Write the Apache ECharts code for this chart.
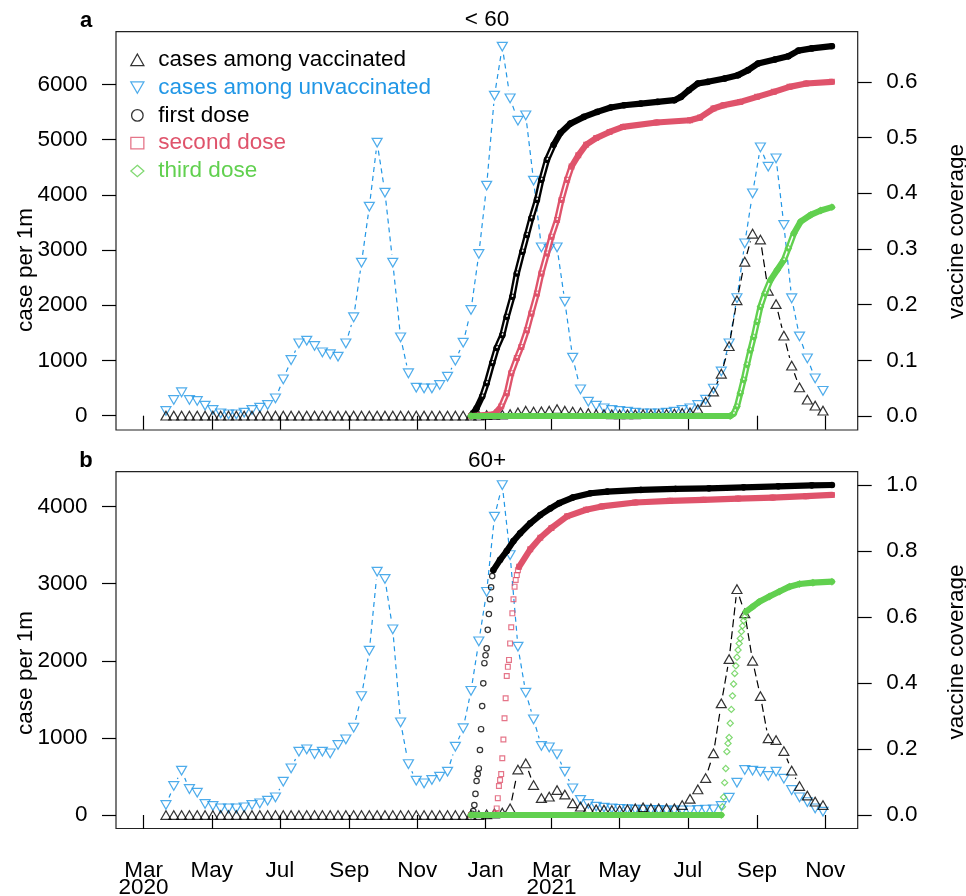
<!DOCTYPE html>
<html>
<head>
<meta charset="utf-8">
<script src="https://cdn.jsdelivr.net/npm/echarts@6/dist/echarts.min.js"></script>
<style>
  html, body { margin: 0; padding: 0; background: #fff; }
  #chart { width: 966px; height: 896px; }
</style>
</head>
<body>
<div id="chart"></div>
<script>
// ---------- weekly case rates (per 1m), one value per week starting 2020-03-21 ----------
const firstWeek = '2020-03-21';

const unvaccinatedA = [
  85, 284, 424, 284, 266, 181, 103, 43, 25, 25,
  54, 103, 145, 194, 315, 659, 1008, 1311, 1358, 1262,
  1148, 1112, 1068, 1311, 1782, 2770, 3784, 4943, 4038, 2770,
  1419, 768, 507, 496, 496, 556, 706, 996, 1322, 1914,
  2928, 4165, 5794, 6681, 5747, 5341, 5439, 4255, 3049, 3020,
  3049, 2064, 1050, 478, 253, 180, 134, 103, 85, 72,
  54, 43, 43, 43, 54, 72, 103, 134, 194, 290,
  490, 800, 1311, 2130, 3121, 4027, 4860, 4508, 4660, 3453,
  2126, 1435, 1039, 677, 450
];
const vaccinatedA = [
  0, 0, 0, 0, 0, 0, 0, 0, 0, 0,
  0, 0, 0, 0, 0, 0, 0, 0, 0, 0,
  0, 0, 0, 0, 0, 0, 0, 0, 0, 0,
  0, 0, 0, 0, 0, 0, 0, 0, 0, 0,
  0, 10, 15, 20, 30, 60, 90, 72, 78, 90,
  120, 90, 72, 60, 48, 30, 30, 25, 25, 25,
  25, 30, 30, 30, 35, 40, 50, 60, 120, 250,
  437, 760, 1260, 2090, 2788, 3295, 3190, 2263, 2021, 1449,
  905, 512, 290, 181, 91
];
const unvaccinatedB = [
  130, 376, 575, 337, 289, 143, 117, 87, 87, 87,
  100, 130, 152, 186, 229, 432, 605, 821, 852, 791,
  821, 800, 908, 982, 1133, 1543, 2131, 3156, 3061, 2408,
  1202, 661, 445, 411, 454, 497, 562, 886, 1125, 1610,
  2252, 2894, 3869, 4280, 3372, 2183, 1586, 1241, 895, 878,
  787, 562, 346, 195, 143, 108, 95, 85, 80, 75,
  70, 70, 65, 65, 60, 60, 60, 60, 65, 70,
  74, 117, 224, 419, 584, 575, 562, 506, 562, 470,
  324, 229, 167, 87, 43
];
const vaccinatedB = [
  0, 0, 0, 0, 0, 0, 0, 0, 0, 0,
  0, 0, 0, 0, 0, 0, 0, 0, 0, 0,
  0, 0, 0, 0, 0, 0, 0, 0, 0, 0,
  0, 0, 0, 0, 0, 0, 0, 0, 0, 0,
  0, 10, 20, 30, 87, 590, 670, 389, 220, 238,
  324, 265, 152, 108, 87, 74, 70, 65, 65, 74,
  87, 100, 87, 87, 87, 87, 130, 210, 333, 480,
  800, 1449, 2023, 2929, 2616, 2001, 1543, 995, 973, 830,
  575, 376, 252, 173, 130
];

// ---------- vaccine coverage readings [date, share] ----------
const firstDoseA = [
  ['2020-12-19', 0], ['2020-12-24', 0.014], ['2020-12-29', 0.035], ['2021-01-02', 0.059],
  ['2021-01-07', 0.095], ['2021-01-11', 0.122], ['2021-01-16', 0.145], ['2021-01-20', 0.178],
  ['2021-01-25', 0.214], ['2021-01-29', 0.256], ['2021-02-03', 0.295], ['2021-02-07', 0.325],
  ['2021-02-11', 0.355], ['2021-02-16', 0.388], ['2021-02-20', 0.424], ['2021-02-25', 0.460],
  ['2021-03-03', 0.487], ['2021-03-09', 0.508], ['2021-03-18', 0.525], ['2021-03-30', 0.537],
  ['2021-04-11', 0.546], ['2021-04-23', 0.554], ['2021-05-05', 0.558], ['2021-05-20', 0.561],
  ['2021-06-04', 0.564], ['2021-06-19', 0.567], ['2021-06-25', 0.573], ['2021-07-02', 0.585],
  ['2021-07-10', 0.597], ['2021-07-19', 0.600], ['2021-08-03', 0.606], ['2021-08-15', 0.612],
  ['2021-08-24', 0.621], ['2021-09-02', 0.633], ['2021-09-17', 0.640], ['2021-09-29', 0.646],
  ['2021-10-08', 0.656], ['2021-10-20', 0.660], ['2021-11-07', 0.664]
];
const secondDoseA = [
  ['2020-12-19', 0], ['2021-01-09', 0.003], ['2021-01-15', 0.017], ['2021-01-20', 0.041],
  ['2021-01-24', 0.077], ['2021-01-29', 0.104], ['2021-02-02', 0.124], ['2021-02-07', 0.154],
  ['2021-02-11', 0.184], ['2021-02-16', 0.220], ['2021-02-20', 0.256], ['2021-02-25', 0.292],
  ['2021-03-01', 0.322], ['2021-03-06', 0.352], ['2021-03-10', 0.388], ['2021-03-15', 0.424],
  ['2021-03-19', 0.448], ['2021-03-25', 0.468], ['2021-04-01', 0.487], ['2021-04-10', 0.499],
  ['2021-04-22', 0.510], ['2021-05-04', 0.519], ['2021-06-03', 0.527], ['2021-07-03', 0.531],
  ['2021-07-12', 0.536], ['2021-07-24', 0.552], ['2021-08-02', 0.558], ['2021-08-17', 0.564],
  ['2021-09-01', 0.573], ['2021-09-16', 0.582], ['2021-09-30', 0.591], ['2021-10-15', 0.597],
  ['2021-11-07', 0.600]
];
const thirdDoseA = [
  ['2020-12-19', 0], ['2021-08-08', 0], ['2021-08-11', 0.004], ['2021-08-14', 0.017],
  ['2021-08-17', 0.041], ['2021-08-20', 0.065], ['2021-08-23', 0.092], ['2021-08-26', 0.118],
  ['2021-08-29', 0.142], ['2021-09-01', 0.169], ['2021-09-04', 0.196], ['2021-09-08', 0.220],
  ['2021-09-13', 0.244], ['2021-09-19', 0.262], ['2021-09-25', 0.280], ['2021-09-29', 0.301],
  ['2021-10-04', 0.328], ['2021-10-10', 0.349], ['2021-10-19', 0.361], ['2021-10-28', 0.369],
  ['2021-11-07', 0.375]
];
const firstDoseB = [
  ['2020-12-19', 0], ['2020-12-20', 0.004], ['2020-12-21', 0.012], ['2020-12-22', 0.030],
  ['2020-12-23', 0.064], ['2020-12-24', 0.103], ['2020-12-25', 0.124], ['2020-12-26', 0.141],
  ['2020-12-27', 0.197], ['2020-12-28', 0.260], ['2020-12-29', 0.330], ['2020-12-30', 0.399],
  ['2020-12-31', 0.460], ['2021-01-01', 0.484], ['2021-01-02', 0.505], ['2021-01-03', 0.561],
  ['2021-01-04', 0.609], ['2021-01-05', 0.654], ['2021-01-06', 0.690], ['2021-01-07', 0.724],
  ['2021-01-08', 0.742], ['2021-01-14', 0.773], ['2021-01-20', 0.800], ['2021-01-26', 0.830],
  ['2021-02-01', 0.854], ['2021-02-10', 0.884], ['2021-02-19', 0.909], ['2021-02-28', 0.929],
  ['2021-03-08', 0.945], ['2021-03-20', 0.962], ['2021-04-05', 0.975], ['2021-04-20', 0.980],
  ['2021-05-20', 0.985], ['2021-06-20', 0.988], ['2021-07-20', 0.990], ['2021-08-20', 0.993],
  ['2021-09-20', 0.996], ['2021-10-20', 0.999], ['2021-11-07', 1.0]
];
const secondDoseB = [
  ['2020-12-19', 0], ['2021-01-09', 0], ['2021-01-10', 0.005], ['2021-01-11', 0.020],
  ['2021-01-12', 0.051], ['2021-01-13', 0.088], ['2021-01-14', 0.106], ['2021-01-15', 0.124],
  ['2021-01-16', 0.172], ['2021-01-17', 0.229], ['2021-01-18', 0.293], ['2021-01-19', 0.354],
  ['2021-01-20', 0.421], ['2021-01-21', 0.449], ['2021-01-22', 0.470], ['2021-01-23', 0.520],
  ['2021-01-24', 0.569], ['2021-01-25', 0.611], ['2021-01-26', 0.654], ['2021-01-27', 0.692],
  ['2021-01-28', 0.712], ['2021-01-29', 0.727], ['2021-01-30', 0.742], ['2021-01-31', 0.752],
  ['2021-02-10', 0.805], ['2021-02-19', 0.840], ['2021-03-01', 0.870], ['2021-03-15', 0.905],
  ['2021-04-01', 0.925], ['2021-04-15', 0.935], ['2021-05-15', 0.947], ['2021-06-15', 0.952],
  ['2021-07-15', 0.955], ['2021-08-15', 0.959], ['2021-09-15', 0.962], ['2021-10-15', 0.966],
  ['2021-11-07', 0.970]
];
const thirdDoseB = [
  ['2020-12-19', 0], ['2021-07-31', 0], ['2021-08-01', 0.025], ['2021-08-02', 0.054],
  ['2021-08-03', 0.098], ['2021-08-04', 0.141], ['2021-08-05', 0.192], ['2021-08-06', 0.217],
  ['2021-08-07', 0.235], ['2021-08-08', 0.278], ['2021-08-09', 0.320], ['2021-08-10', 0.361],
  ['2021-08-11', 0.397], ['2021-08-12', 0.429], ['2021-08-13', 0.452], ['2021-08-14', 0.478],
  ['2021-08-15', 0.500], ['2021-08-16', 0.520], ['2021-08-17', 0.535], ['2021-08-18', 0.556],
  ['2021-08-19', 0.573], ['2021-08-20', 0.589], ['2021-08-21', 0.601], ['2021-08-22', 0.616],
  ['2021-08-28', 0.631], ['2021-09-03', 0.646], ['2021-09-12', 0.662], ['2021-09-21', 0.677],
  ['2021-09-30', 0.692], ['2021-10-09', 0.700], ['2021-10-21', 0.704], ['2021-11-07', 0.707]
];

// ---------- axis ticks ----------
const monthTicks = ['2020-03-01', '2020-05-01', '2020-07-01', '2020-09-01', '2020-11-01',
  '2021-01-01', '2021-03-01', '2021-05-01', '2021-07-01', '2021-09-01', '2021-11-01'];
const monthLabels = ['Mar', 'May', 'Jul', 'Sep', 'Nov', 'Jan', 'Mar', 'May', 'Jul', 'Sep', 'Nov'];
const yearTicks = ['2020-03-01', '2021-03-01'];
const yearLabels = ['2020', '2021'];
const caseTicksA = [0, 1000, 2000, 3000, 4000, 5000, 6000];
const caseTicksB = [0, 1000, 2000, 3000, 4000];
const coverageTicksA = [0, 0.1, 0.2, 0.3, 0.4, 0.5, 0.6];
const coverageTicksB = [0, 0.2, 0.4, 0.6, 0.8, 1.0];

// ---------- styling ----------
const FONT = '"Liberation Sans", Arial, Helvetica, sans-serif';
const FS = 22.5;
const BLACK = '#000000', RED = '#DF536B', GREEN = '#61D04F', BLUE = '#2297E6';
const DAY_MS = 86400000;
const utc = s => { const p = s.split('-').map(Number); return Date.UTC(p[0], p[1] - 1, p[2]); };
const ORIGIN = utc('2020-03-01');
const X_MIN = ORIGIN - 24.70 * DAY_MS;
const X_MAX = ORIGIN + 639.07 * DAY_MS;
const GAP = 8; // blank space left around each case marker by the connecting lines

const weekDates = unvaccinatedA.map((_, i) => utc(firstWeek) + i * 7 * DAY_MS);
const tickTimes = monthTicks.map(utc);

function segments(xs, ys) {
  const out = [];
  for (let i = 0; i < xs.length - 1; i++) out.push([xs[i], ys[i], xs[i + 1], ys[i + 1]]);
  return out;
}
function toPoints(readings) { return readings.map(r => [utc(r[0]), r[1]]); }

// dashed connector that stops short of the markers at both ends
function gappedLine(color, dash) {
  return function (params, api) {
    const p0 = api.coord([api.value(0), api.value(1)]);
    const p1 = api.coord([api.value(2), api.value(3)]);
    const dx = p1[0] - p0[0], dy = p1[1] - p0[1];
    const len = Math.hypot(dx, dy);
    if (len <= 2 * GAP + 1) return null;
    const ux = dx / len, uy = dy / len;
    return {
      type: 'line',
      shape: { x1: p0[0] + ux * GAP, y1: p0[1] + uy * GAP, x2: p1[0] - ux * GAP, y2: p1[1] - uy * GAP },
      style: { stroke: color, lineWidth: 1.2, lineDash: dash, fill: null }
    };
  };
}

// Daily coverage markers: where they pile up they form a solid band, where the curve
// climbs fast they form a chain of open rings; consecutive daily readings stay separate.
function bandLine(color, width) {
  return function (params, api) {
    const t0 = api.value(0), t1 = api.value(2);
    const days = (t1 - t0) / DAY_MS;
    if (days <= 1.01) return null;
    const p0 = api.coord([t0, api.value(1)]);
    const p1 = api.coord([t1, api.value(3)]);
    const shape = { x1: p0[0], y1: p0[1], x2: p1[0], y2: p1[1] };
    const stepPerDay = Math.hypot(p1[0] - p0[0], p1[1] - p0[1]) / days;
    const outer = { type: 'line', shape: shape, style: { stroke: color, lineWidth: width, lineCap: 'round', fill: null } };
    if (stepPerDay < 2.6) return outer;
    return {
      type: 'group',
      children: [
        outer,
        { type: 'line', shape: shape, style: { stroke: '#fff', lineWidth: 1.5, lineCap: 'butt', fill: null } }
      ]
    };
  };
}

function hollow(color, bw) {
  return { color: 'rgba(0,0,0,0)', borderColor: color, borderWidth: bw };
}

function panelSeries(gi, unvacc, vacc, cov1, cov2, cov3) {
  const yCase = gi * 2, yCov = gi * 2 + 1;
  const base = { xAxisIndex: gi, silent: true, animation: false };
  const seg = { type: 'custom', encode: { x: [0, 2], y: [1, 3] } };
  const covs = [
    { name: 'first dose', data: toPoints(cov1), color: BLACK, symbol: 'circle', size: 5.4, z: 6 },
    { name: 'second dose', data: toPoints(cov2), color: RED, symbol: 'rect', size: 4.8, z: 7 },
    { name: 'third dose', data: toPoints(cov3), color: GREEN, symbol: 'diamond', size: 6.2, z: 8 }
  ];
  const list = [
    Object.assign({}, base, seg, { name: 'unvacc-line-' + gi, yAxisIndex: yCase, z: 2,
      renderItem: gappedLine(BLUE, [5, 4]), data: segments(weekDates, unvacc) }),
    Object.assign({}, base, seg, { name: 'vacc-line-' + gi, yAxisIndex: yCase, z: 2,
      renderItem: gappedLine(BLACK, [8, 4]), data: segments(weekDates, vacc) }),
    Object.assign({}, base, { type: 'scatter', name: 'cases among unvaccinated', yAxisIndex: yCase, z: 3,
      symbol: 'triangle', symbolRotate: 180, symbolSize: [10, 8.7],
      itemStyle: hollow(BLUE, 1.2), data: weekDates.map((t, i) => [t, unvacc[i]]) }),
    Object.assign({}, base, { type: 'scatter', name: 'cases among vaccinated', yAxisIndex: yCase, z: 4,
      symbol: 'triangle', symbolSize: [10, 8.7],
      itemStyle: hollow(BLACK, 1.2), data: weekDates.map((t, i) => [t, vacc[i]]) })
  ];
  covs.forEach(c => {
    const xs = c.data.map(p => p[0]), ys = c.data.map(p => p[1]);
    list.push(Object.assign({}, base, seg, { name: c.name + ' band ' + gi, yAxisIndex: yCov, z: c.z,
      renderItem: bandLine(c.color, 6.2), data: segments(xs, ys) }));
    list.push(Object.assign({}, base, { type: 'scatter', name: c.name, yAxisIndex: yCov, z: c.z,
      symbol: c.symbol, symbolSize: c.size, itemStyle: hollow(c.color, 1.2), data: c.data }));
  });
  return list;
}

const labelFont = { fontSize: FS, fontFamily: FONT, color: '#000' };
const tickStyle = { color: '#000', width: 1.2 };

function xAxisFor(gi, showLabels) {
  return {
    gridIndex: gi, type: 'value', min: X_MIN, max: X_MAX, scale: true,
    axisLine: { show: false }, splitLine: { show: false },
    axisTick: { show: true, length: 14, lineStyle: tickStyle, customValues: tickTimes },
    axisLabel: Object.assign({ show: showLabels, customValues: tickTimes, margin: 31, hideOverlap: false,
      formatter: v => { const k = tickTimes.indexOf(v); return k >= 0 ? monthLabels[k] : ''; } }, labelFont)
  };
}
function yAxisFor(gi, side, min, max, ticks, fmt) {
  return {
    gridIndex: gi, type: 'value', position: side, min: min, max: max,
    axisLine: { show: false }, splitLine: { show: false },
    axisTick: { show: true, length: 14, lineStyle: tickStyle, customValues: ticks },
    axisLabel: Object.assign({ customValues: ticks, margin: 28.5, formatter: fmt }, labelFont)
  };
}

const textEl = (x, y, text, extra) => ({
  type: 'text', x: x, y: y, silent: true,
  style: Object.assign({ text: text, font: FS + 'px ' + FONT, fill: '#000', textAlign: 'center', textVerticalAlign: 'middle' }, extra || {})
});

const option = {
  animation: false,
  backgroundColor: '#fff',
  grid: [
    { left: 116, top: 31.7, width: 741.7, height: 398.3, show: true, borderColor: '#222', borderWidth: 1.2, backgroundColor: 'transparent' },
    { left: 116, top: 471.7, width: 741.7, height: 356.8, show: true, borderColor: '#222', borderWidth: 1.2, backgroundColor: 'transparent' }
  ],
  xAxis: [xAxisFor(0, false), xAxisFor(1, true)],
  yAxis: [
    yAxisFor(0, 'left', -259, 6953, caseTicksA, v => String(v)),
    yAxisFor(0, 'right', -0.0251, 0.690, coverageTicksA, v => v.toFixed(1)),
    yAxisFor(1, 'left', -175, 4453, caseTicksB, v => String(v)),
    yAxisFor(1, 'right', -0.0409, 1.0403, coverageTicksB, v => v.toFixed(1))
  ],
  legend: {
    orient: 'vertical', left: 130.2, top: 48.3, padding: 0, itemGap: 4.8,
    itemWidth: 13, itemHeight: 11.5, selectedMode: false,
    itemStyle: { borderWidth: 1.3 },
    textStyle: { fontSize: FS, fontFamily: FONT, lineHeight: 22, padding: [0, 0, 0, 9.5] },
    data: [
      { name: 'cases among vaccinated', textStyle: { color: BLACK } },
      { name: 'cases among unvaccinated', icon: 'path://M0,0L20,0L10,17.32Z', textStyle: { color: BLUE } },
      { name: 'first dose', textStyle: { color: BLACK } },
      { name: 'second dose', textStyle: { color: RED } },
      { name: 'third dose', textStyle: { color: GREEN } }
    ]
  },
  graphic: [
    textEl(86, 21, 'a', { font: 'bold 22px ' + FONT }),
    textEl(86, 461, 'b', { font: 'bold 22px ' + FONT }),
    textEl(487, 19.5, '< 60'),
    textEl(487, 461, '60+'),
    Object.assign(textEl(25.5, 270, 'case per 1m'), { rotation: Math.PI / 2 }),
    Object.assign(textEl(25.5, 673, 'case per 1m'), { rotation: Math.PI / 2 }),
    Object.assign(textEl(957, 231.5, 'vaccine coverage'), { rotation: Math.PI / 2 }),
    Object.assign(textEl(957, 652, 'vaccine coverage'), { rotation: Math.PI / 2 })
  ],
  series: [].concat(
    panelSeries(0, unvaccinatedA, vaccinatedA, firstDoseA, secondDoseA, thirdDoseA),
    panelSeries(1, unvaccinatedB, vaccinatedB, firstDoseB, secondDoseB, thirdDoseB)
  )
};

const chart = echarts.init(document.getElementById('chart'), null, { renderer: 'canvas' });
chart.setOption(option);

// year line under the March ticks, placed through the bottom time axis
const yearGraphics = yearTicks.map((d, i) => {
  const px = chart.convertToPixel({ xAxisIndex: 1 }, utc(d));
  return textEl(px, 887.5, yearLabels[i]);
});
chart.setOption({ graphic: option.graphic.concat(yearGraphics) });
</script>
</body>
</html>
